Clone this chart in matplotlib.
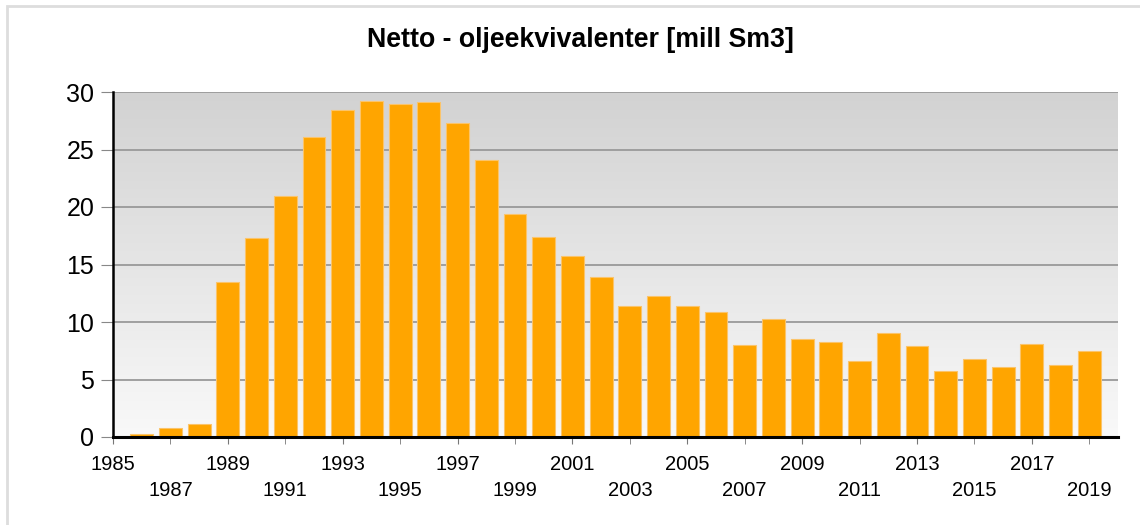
import numpy as np
import matplotlib.pyplot as plt
from matplotlib.patches import Rectangle

plt.rcParams['font.family'] = ['Liberation Sans', 'DejaVu Sans']

years = list(range(1986, 2020))
values = [0.3, 0.8, 1.1, 13.5, 17.3, 21.0, 26.1, 28.4, 29.2, 28.95, 29.1,
          27.3, 24.1, 19.4, 17.4, 15.7, 13.9, 11.4, 12.3, 11.4, 10.9, 8.0,
          10.25, 8.55, 8.3, 6.6, 9.05, 7.9, 5.75, 6.8, 6.05, 8.1, 6.3, 7.5]
major_years = list(range(1985, 2020, 4))
minor_years = list(range(1987, 2020, 4))
title = "Netto - oljeekvivalenter [mill Sm3]"

fig = plt.figure(figsize=(11.4, 5.25), dpi=100)
ax = fig.add_axes([113 / 1140, 1 - 437 / 525, 1005 / 1140, 345 / 525])

# gradient background
grad = np.linspace(0, 1, 256).reshape(-1, 1)
ax.imshow(grad, cmap=plt.matplotlib.colors.LinearSegmentedColormap.from_list(
    'bg', ['#f9f9f9', '#d2d2d2']), origin='lower', aspect='auto',
    extent=[1985, 2020, 0, 30], zorder=0)

ax.bar(years, values, width=0.8, color='#ffa500', edgecolor='#fbc46a',
       linewidth=0.8, zorder=3)

ax.set_xlim(1985, 2020)
ax.set_ylim(0, 30)
ax.set_yticks(range(0, 31, 5))
ax.yaxis.grid(True, color='#999999', linewidth=1.3, zorder=1)
ax.set_axisbelow(True)

ax.set_xticks(major_years)
ax.set_xticks(minor_years, minor=True)
ax.set_xticklabels([str(y) for y in major_years])
ax.set_xticklabels([str(y) for y in minor_years], minor=True)
ax.tick_params(axis='x', which='major', length=5, color='#777777', pad=8,
               labelsize=14.5)
ax.tick_params(axis='x', which='minor', length=5, color='#777777', pad=27,
               labelsize=14.5)
ax.tick_params(axis='y', length=8.5, color='#888888', pad=5, labelsize=18)

for s in ['top', 'right']:
    ax.spines[s].set_visible(False)
ax.spines['left'].set_linewidth(1.8)
ax.spines['bottom'].set_linewidth(2.2)
ax.spines['left'].set_zorder(4)
ax.spines['bottom'].set_zorder(4)

fig.text(580 / 1140, 1 - 40 / 525, title, ha='center', va='center',
         fontsize=19.3, fontweight='bold')

fig.patches.append(Rectangle((7 / 1140, -0.01), 1.0, 1 - 6 / 525 + 0.01,
                             transform=fig.transFigure, fill=False,
                             edgecolor='#dddddd', linewidth=2))

fig.savefig('out.png', dpi=100)
